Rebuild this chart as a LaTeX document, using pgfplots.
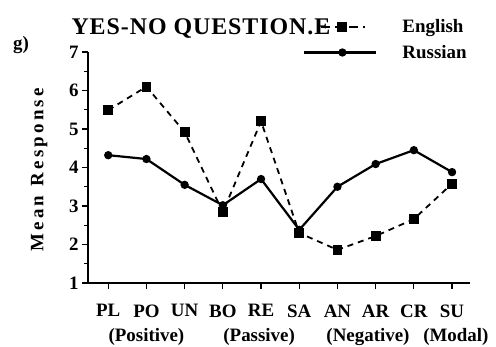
\documentclass[border=0pt]{standalone}
\usepackage{fontspec}
\setmainfont{Liberation Serif}
\usepackage{pgfplots}
\pgfplotsset{compat=1.18}
\pgfplotsset{
  englegend/.code={\pgfplotsset{legend image code/.code={\path (0bp,0) (72bp,0); \draw[##1,mark repeat=2,mark phase=2,dash pattern=on 9bp off 5bp] plot coordinates {(17bp,0)(38bp,0)(61bp,0)};}}},
  ruslegend/.code={\pgfplotsset{legend image code/.code={\draw[##1,mark repeat=2,mark phase=2] plot coordinates {(0bp,0)(38bp,0)(72bp,0)};}}},
}
\begin{document}
\begin{tikzpicture}
\useasboundingbox (0bp,0bp) rectangle (496bp,347bp);
\begin{axis}[
  at={(88bp,64bp)}, anchor=south west,
  scale only axis, width=382bp, height=231bp,
  xmin=-0.53, xmax=9.47, ymin=1, ymax=7,
  axis lines=left, axis line style={-, line width=1.6bp},
  xtick={0,...,9}, xticklabels={PL,PO,UN,BO,RE,SA,AN,AR,CR,SU},
  ytick={1,...,7}, minor y tick num=1,
  tick align=outside, major tick length=6bp, minor tick length=4bp,
  tick style={line width=1.2bp, black},
  every tick label/.append style={font=\fontsize{19}{19}\selectfont\bfseries},
  xticklabel style={yshift=-12bp},
  /pgf/number format/assume math mode=true,
  clip=false,
  legend cell align=left,
  legend style={at={(axis description cs:0.563,1.15)}, anchor=north west,
    draw=none, fill=none, inner sep=0pt, row sep=7bp,
    font=\fontsize{19}{19}\selectfont\bfseries,
    /tikz/every odd column/.append style={column sep=23bp}},
]
\addplot[black, line width=1.8bp, dash pattern=on 6bp off 5bp,
  mark=square*, mark size=4bp, mark options={solid}, englegend]
  coordinates {(0,5.49)(1,6.1)(2,4.92)(3,2.84)(4,5.2)(5,2.3)(6,1.86)(7,2.22)(8,2.66)(9,3.58)};
\addlegendentry{English}
\addplot[black, line width=2.2bp, mark=*, mark size=3bp, ruslegend]
  coordinates {(0,4.32)(1,4.22)(2,3.55)(3,3.02)(4,3.7)(5,2.38)(6,3.5)(7,4.09)(8,4.45)(9,3.88)};
\addlegendentry{Russian}
\node[anchor=north, font=\fontsize{19}{19}\selectfont\bfseries, yshift=-42bp] at (axis cs:1,1) {(Positive)};
\node[anchor=north, font=\fontsize{19}{19}\selectfont\bfseries, yshift=-42bp] at (axis cs:3.95,1) {(Passive)};
\node[anchor=north, font=\fontsize{19}{19}\selectfont\bfseries, yshift=-42bp] at (axis cs:6.8,1) {(Negative)};
\node[anchor=north, font=\fontsize{19}{19}\selectfont\bfseries, yshift=-42bp] at (axis cs:9.1,1) {(Modal)};
\node[rotate=90, font=\fontsize{19}{19}\selectfont\bfseries] at (axis description cs:-0.128,0.49) {M\,e\,a\,n\enspace R\,e\,s\,p\,o\,n\,s\,e};
\end{axis}
\node[anchor=west, font=\fontsize{24}{24}\selectfont\bfseries\addfontfeature{LetterSpace=4}] at (68bp,318bp) {YES-NO QUESTION.E};
\node[font=\fontsize{19}{19}\selectfont\bfseries] at (21bp,302bp) {g)};
\end{tikzpicture}
\end{document}
